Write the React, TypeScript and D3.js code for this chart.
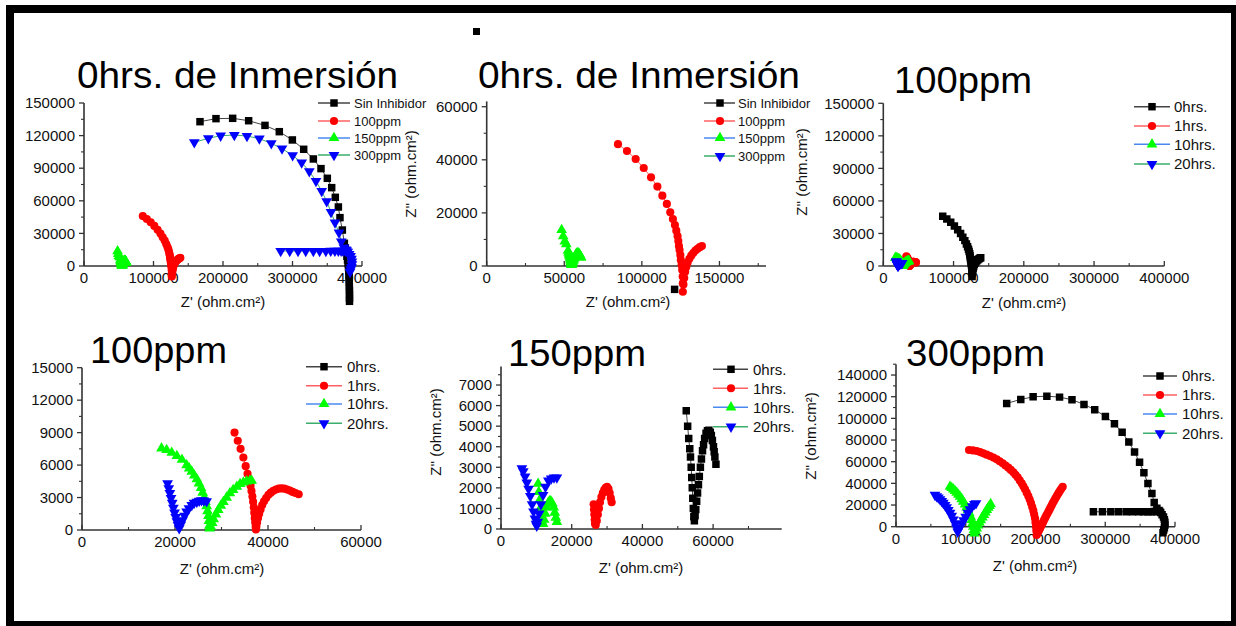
import React from 'react';
import * as d3 from 'd3';

type Pt = [number, number];

// ---- 0 hrs de inmersión ----
const sinInhibidor: Pt[] = [
  [166900, 132800], [189900, 135600], [213900, 135900], [236900, 133700], [260400, 129400],
  [281000, 123600], [299800, 116000], [316100, 107400], [330000, 98500], [341000, 89600],
  [350100, 80700], [356400, 72100], [361600, 63200], [366000, 54300], [368300, 44500],
  [371700, 33100], [374600, 20900], [376000, 16500], [377200, 12500], [378300, 9000],
  [379200, 5500], [380000, 2000], [380600, -1500], [381000, -5000], [381300, -8500],
  [381500, -12000], [381700, -15500], [381800, -19000], [381900, -22500], [382000, -26000],
  [382000, -29500], [382000, -32500],
];
const strayPoint: Pt[] = [[121100, -8800]];

const ppm100h0: Pt[] = [
  [84600, 45900], [90400, 43300], [96000, 40300], [101200, 36900], [105900, 33400],
  [110000, 29900], [113200, 26500], [116100, 23400], [118300, 20200], [120000, 17700],
  [121300, 15400], [122200, 13300], [123000, 11300], [123500, 9400], [123900, 7500],
  [124300, 6000], [124800, 4100], [125100, 2300], [125600, 400], [126000, -1500],
  [126300, -4000], [126400, -6500], [126400, -9700], [126800, -7000], [127300, -4500],
  [127900, -2200], [128600, -400], [129500, 1300], [130600, 2700], [131800, 3900],
  [133100, 4900], [134500, 5800], [135900, 6500], [137300, 7100], [138700, 7500],
];

const ppm150h0: Pt[] = [
  [48300, 13600], [49300, 11200], [50300, 9300], [51300, 8200], [52400, 5750],
  [52800, 5000], [53100, 4400], [53400, 3900], [53600, 3500], [53800, 3000],
  [53950, 2500], [54100, 2000], [54250, 1500], [54400, 1000], [54550, 600],
  [54700, 400], [54900, 650], [55100, 950], [55350, 1350], [55600, 1750],
  [55850, 2150], [56100, 2550], [56400, 3000], [56700, 3400], [57000, 3800],
  [57300, 4100], [57600, 4400], [58000, 4650], [58400, 4780], [58800, 4800],
  [59200, 4700], [59500, 4550], [59800, 4300], [60100, 4000], [60300, 3750],
  [60500, 3500], [60800, 3150],
];

const ppm300h0: Pt[] = [
  [158700, 113800], [178900, 117500], [196600, 119900], [216300, 120500], [234500, 119600],
  [252300, 117200], [269500, 112900], [284900, 108000], [300200, 101800], [313200, 95100],
  [324200, 87100], [333800, 78200], [342000, 69000], [349200, 59500], [355400, 49700],
  [361200, 39900], [366900, 30700], [370200, 22400], [374000, 17000], [377000, 15000],
  [379500, 13000], [381500, 11000], [383500, 9000], [384800, 6500], [385500, 4000],
  [385500, 1500], [384800, -1000], [383800, -3000], [382800, -5500],
  [378000, 14200], [376000, 14100], [373000, 14000], [370000, 14000], [366000, 13900],
  [361000, 13900], [355000, 13900], [348000, 13800], [339000, 13800], [330000, 13800],
  [319000, 13800], [308000, 13800], [296000, 13800], [283000, 13800],
];

// ---- 100 ppm ----
const ppm100h1: Pt[] = [
  [32800, 9000], [33500, 8250], [34100, 7500], [34700, 6700], [35200, 5900],
  [35600, 5200], [36000, 4600], [36250, 4100], [36450, 3600], [36650, 3100],
  [36800, 2600], [36950, 2100], [37050, 1600], [37150, 1100], [37250, 700],
  [37350, 300], [37400, 50], [37500, 300], [37650, 700], [37850, 1100],
  [38100, 1500], [38400, 1900], [38750, 2300], [39150, 2650], [39600, 2950],
  [40100, 3250], [40600, 3450], [41150, 3620], [41700, 3740], [42300, 3820],
  [42900, 3850], [43500, 3820], [44100, 3740], [44700, 3640], [45300, 3520],
  [45900, 3420], [46600, 3300],
];
const ppm100h10: Pt[] = [
  [17100, 7550], [18200, 7400], [19300, 7150], [20400, 6850], [21500, 6500],
  [22500, 6000], [23050, 5700], [23600, 5400], [24150, 5050], [24700, 4700],
  [25150, 4300], [25600, 3900], [25950, 3450], [26300, 3000], [26550, 2600],
  [26800, 2200], [27000, 1750], [27200, 1300], [27300, 850], [27400, 400],
  [27450, 150], [27700, 300], [28000, 650], [28300, 1000], [28800, 1450],
  [29300, 1850], [29850, 2250], [30400, 2600], [31100, 3000], [31800, 3400],
  [32500, 3700], [33300, 4000], [34000, 4250], [34700, 4400], [35400, 4500],
  [36100, 4550], [36500, 4550],
];
const ppm100h20: Pt[] = [
  [18400, 4300], [18650, 3850], [18900, 3400], [19150, 2950], [19400, 2500],
  [19650, 2050], [19900, 1600], [20150, 1200], [20400, 800], [20650, 450],
  [20900, 150], [21250, 500], [21600, 900], [22050, 1300], [22500, 1700],
  [23000, 2000], [23600, 2300], [24100, 2500], [24700, 2600], [25200, 2700],
  [25700, 2750], [26200, 2720], [26800, 2650],
];

// ---- 150 ppm ----
const ppm150h1: Pt[] = [
  [26200, 1200], [26300, 950], [26400, 700], [26500, 450], [26600, 250],
  [26800, 200], [27100, 400], [27400, 700], [27700, 1000], [28000, 1300],
  [28400, 1550], [28800, 1750], [29200, 1900], [29600, 2000], [30000, 2050],
  [30400, 1950], [30750, 1750], [31050, 1500], [31300, 1300],
];
const ppm150h10: Pt[] = [
  [10500, 2200], [10700, 1800], [10900, 1400], [11100, 1000], [11300, 650],
  [11600, 350], [11900, 250], [12200, 450], [12500, 750], [12900, 1050],
  [13300, 1250], [13700, 1350], [14100, 1350], [14500, 1250], [14900, 1050],
  [15200, 800], [15500, 550], [15800, 350],
];
const ppm150h20: Pt[] = [
  [5900, 2950], [6300, 2800], [6800, 2550], [7300, 2250], [7800, 1950],
  [8300, 1600], [8800, 1200], [9200, 850], [9600, 500], [9900, 250],
  [10100, 150], [10400, 350], [10800, 750], [11300, 1200], [11900, 1650],
  [12600, 2050], [13400, 2350], [14200, 2450], [15000, 2500], [15800, 2500],
];

// ---- 300 ppm ----
const ppm300h1: Pt[] = [
  [104700, 70800], [110200, 70400], [115700, 69900], [120500, 68900], [125200, 67700],
  [130000, 66500], [134800, 65300], [139600, 63800], [144400, 62200], [148700, 60400],
  [153000, 58500], [157000, 56500], [161000, 54500], [164600, 52400], [168200, 50200],
  [171300, 47900], [174400, 45600], [177300, 42800], [180200, 40000], [182600, 37300],
  [185000, 34500], [187400, 31400], [189700, 28300], [191700, 25000], [193600, 21600],
  [195300, 18200], [196900, 14800], [198100, 11300], [199300, 7700], [200000, 3800],
  [200700, 0], [201200, -3800], [201700, -7700], [202800, -6100], [204000, -4500],
  [205300, -3000], [206500, -1500], [207900, 400], [209300, 2300], [210800, 4200],
  [212200, 6200], [213800, 8100], [215300, 10000], [216900, 11900], [218400, 13800],
  [220000, 15700], [221500, 17700], [223100, 19600], [224600, 21600], [226300, 23500],
  [228000, 25500], [229700, 27400], [231300, 29300], [233200, 31200], [235100, 33100],
  [237000, 35000], [239000, 36900],
];
const ppm300h10: Pt[] = [
  [77400, 36900], [79800, 35800], [82200, 34500], [84600, 33000], [87000, 31400],
  [89400, 29600], [91800, 27700], [94200, 25500], [96500, 23100], [98900, 20600],
  [101300, 17900], [103200, 15200], [105100, 12400], [106900, 9300], [108500, 6200],
  [109700, 3100], [110800, 0], [111600, -3100], [112300, -6100], [114000, -3800],
  [115700, -1500], [117600, 1100], [119500, 3700], [121600, 6100], [123800, 8600],
  [126000, 11000], [128100, 13300], [130200, 15400], [132300, 17500], [134000, 19200],
  [135700, 20900],
];
const ppm300h20: Pt[] = [
  [55900, 29300], [58300, 28100], [60700, 26800], [63100, 25300], [65500, 23700],
  [67900, 21900], [70300, 20000], [72600, 17800], [75000, 15400], [77500, 12700],
  [79900, 9900], [82200, 6600], [84600, 3100], [86600, -800], [88500, -4600],
  [91300, -1000], [94200, 2500], [97000, 5900], [99900, 9200], [103000, 12700],
  [106100, 16000], [109200, 18700], [112300, 20900], [114700, 21600],
];

const legendInmersion = ['Sin Inhibidor', '100ppm', '150ppm', '300ppm'];
const legendHoras = ['0hrs.', '1hrs.', '10hrs.', '20hrs.'];

const shapes = ['square', 'circle', 'up', 'down'];
const markerFill = ['#000000', '#ff0000', '#00ff00', '#0000ff'];
const lineColors = ['#444444', '#ff6060', '#4a88f0', '#3aae6a'];

const FONT = '"Liberation Sans", Arial, Helvetica, sans-serif';

const panels = [
  {
    id: 'p1', title: '0hrs. de Inmersión', titleX: 77, titleY: 88, titleW: 321,
    xDomain: [0, 400000], xRange: [84, 362], xStep: 100000,
    yDomain: [0, 150000], yRange: [266, 103], yStep: 30000,
    yLabel: null, xLabelX: 223, xLabelY: 307,
    legend: { names: legendInmersion, l0: 318, l1: 350, m: 334, t: 354, rows: [103, 121, 138, 155], size: 13 },
    series: [sinInhibidor, ppm100h0, ppm150h0, ppm300h0], extra: [] as Pt[],
  },
  {
    id: 'p2', title: '0hrs. de Inmersión', titleX: 478, titleY: 88, titleW: 322,
    xDomain: [0, 180000], xRange: [486.7, 766], xStep: 50000,
    yDomain: [0, 62000], yRange: [266, 101.4], yStep: 20000,
    yLabel: [416, 174], xLabelX: 628, xLabelY: 307,
    legend: { names: legendInmersion, l0: 704, l1: 735, m: 720, t: 738, rows: [103, 121, 138, 156], size: 13 },
    series: [sinInhibidor, ppm100h0, ppm150h0, ppm300h0], extra: strayPoint,
  },
  {
    id: 'p3', title: '100ppm', titleX: 894, titleY: 93, titleW: 138,
    xDomain: [0, 400000], xRange: [883.3, 1164.3], xStep: 100000,
    yDomain: [0, 150000], yRange: [266, 103.3], yStep: 30000,
    yLabel: [807, 172], xLabelX: 1024, xLabelY: 308,
    legend: { names: legendHoras, l0: 1134, l1: 1170, m: 1152, t: 1174, rows: [106.7, 126, 144.3, 164], size: 15 },
    series: [ppm100h0, ppm100h1, ppm100h10, ppm100h20], extra: [] as Pt[],
  },
  {
    id: 'p4', title: '100ppm', titleX: 90, titleY: 363, titleW: 137,
    xDomain: [0, 60000], xRange: [82, 361], xStep: 20000,
    yDomain: [0, 15000], yRange: [530, 367.7], yStep: 3000,
    yLabel: null, xLabelX: 222, xLabelY: 574,
    legend: { names: legendHoras, l0: 306, l1: 342, m: 324, t: 347, rows: [366.7, 385.7, 404, 423.3], size: 15 },
    series: [ppm100h0, ppm100h1, ppm100h10, ppm100h20], extra: [] as Pt[],
  },
  {
    id: 'p5', title: '150ppm', titleX: 508, titleY: 366, titleW: 138,
    xDomain: [0, 79400], xRange: [501, 781.7], xStep: 20000,
    yDomain: [0, 7900], yRange: [529, 366.5], yStep: 1000,
    yLabel: [441, 432], xLabelX: 641, xLabelY: 573,
    legend: { names: legendHoras, l0: 713, l1: 748, m: 731, t: 753, rows: [369.3, 388.3, 407.3, 426.7], size: 15 },
    series: [ppm150h0, ppm150h1, ppm150h10, ppm150h20], extra: [] as Pt[],
  },
  {
    id: 'p6', title: '300ppm', titleX: 906, titleY: 366, titleW: 139,
    xDomain: [0, 400000], xRange: [896, 1175], xStep: 100000,
    yDomain: [0, 150000], yRange: [526.7, 364.2], yStep: 20000,
    yLabel: [816, 436], xLabelX: 1035, xLabelY: 571,
    legend: { names: legendHoras, l0: 1143, l1: 1177, m: 1160, t: 1182, rows: [376, 395, 414, 433.3], size: 15 },
    series: [ppm300h0, ppm300h1, ppm300h10, ppm300h20], extra: [] as Pt[],
  },
];

const symSquare = d3.symbol().type(d3.symbolSquare).size(56)() as string;
const symCircle = d3.symbol().type(d3.symbolCircle).size(52)() as string;
const symTri = d3.symbol().type(d3.symbolTriangle).size(50)() as string;

function Marker({ shape, x, y, fill }) {
  const d = shape === 'square' ? symSquare : shape === 'circle' ? symCircle : symTri;
  const rot = shape === 'down' ? ' rotate(180)' : '';
  return <path d={d} transform={`translate(${x},${y})${rot}`} fill={fill} />;
}

function Panel({ cfg }) {
  const x = d3.scaleLinear().domain(cfg.xDomain).range(cfg.xRange);
  const y = d3.scaleLinear().domain(cfg.yDomain).range(cfg.yRange);
  const line = d3.line<Pt>().x(d => x(d[0])).y(d => y(d[1]));
  const x0 = cfg.xRange[0], x1 = cfg.xRange[1];
  const y0 = cfg.yRange[0], yTop = cfg.yRange[1];
  // points beyond the x range or above the y range are skipped (as the original plot does)
  const inView = (p: Pt) => p[0] >= cfg.xDomain[0] && p[0] <= cfg.xDomain[1] && p[1] <= cfg.yDomain[1];

  const xMajor = d3.range(0, cfg.xDomain[1] + 1, cfg.xStep);
  const xMinor = d3.range(cfg.xStep / 2, cfg.xDomain[1] + 1, cfg.xStep);
  const yMajor = d3.range(0, cfg.yDomain[1] + 1, cfg.yStep);
  const yMinor = d3.range(cfg.yStep / 2, cfg.yDomain[1] + 1, cfg.yStep);
  const lg = cfg.legend;

  return (
    <g>
      <defs>
        <clipPath id={'clip-' + cfg.id}>
          <rect x={x0 - 4} y={yTop - 4} width={x1 - x0 + 8} height={y0 - yTop + 54} />
        </clipPath>
      </defs>

      <text x={cfg.titleX} y={cfg.titleY} fontSize={37} fontFamily={FONT} fill="#000"
        textLength={cfg.titleW} lengthAdjust="spacingAndGlyphs">{cfg.title}</text>

      {/* axes */}
      <line x1={x0} x2={x0} y1={yTop} y2={y0} stroke="#333" strokeWidth={1.6} />
      <line x1={x0} x2={x1} y1={y0} y2={y0} stroke="#333" strokeWidth={1.6} />
      {yMajor.map(v => (
        <g key={'ym' + v}>
          <line x1={x0 - 5} x2={x0} y1={y(v)} y2={y(v)} stroke="#333" strokeWidth={1.3} />
          <text x={x0 - 9} y={y(v)} dy="0.35em" textAnchor="end" fontSize={15} fontFamily={FONT} fill="#111">{v}</text>
        </g>
      ))}
      {yMinor.map(v => (
        <line key={'yn' + v} x1={x0 - 3} x2={x0} y1={y(v)} y2={y(v)} stroke="#333" strokeWidth={1.1} />
      ))}
      {xMajor.map(v => (
        <g key={'xm' + v}>
          <line x1={x(v)} x2={x(v)} y1={y0 - 5} y2={y0} stroke="#333" strokeWidth={1.3} />
          <text x={x(v)} y={y0 + 17} textAnchor="middle" fontSize={15} fontFamily={FONT} fill="#111">{v}</text>
        </g>
      ))}
      {xMinor.map(v => (
        <line key={'xn' + v} x1={x(v)} x2={x(v)} y1={y0 - 3} y2={y0} stroke="#333" strokeWidth={1.1} />
      ))}

      <text x={cfg.xLabelX} y={cfg.xLabelY} textAnchor="middle" fontSize={15} fontFamily={FONT} fill="#111">Z' (ohm.cm²)</text>
      {cfg.yLabel && (
        <text transform={`translate(${cfg.yLabel[0]},${cfg.yLabel[1]}) rotate(-90)`} textAnchor="middle"
          fontSize={15} fontFamily={FONT} fill="#111">Z'' (ohm.cm²)</text>
      )}

      {/* data */}
      <g clipPath={`url(#clip-${cfg.id})`}>
        {cfg.series.map((raw, i) => {
          const data = raw.filter(inView);
          if (!data.length) return null;
          return (
            <g key={'s' + i}>
              <path d={line(data) as string} fill="none" stroke={lineColors[i]} strokeWidth={1} />
              {data.map((p, j) => (
                <Marker key={j} shape={shapes[i]} x={x(p[0])} y={y(p[1])} fill={markerFill[i]} />
              ))}
            </g>
          );
        })}
        {cfg.extra.map((p, j) => (
          <Marker key={'e' + j} shape="square" x={x(p[0])} y={y(p[1])} fill="#000" />
        ))}
      </g>

      {/* legend */}
      {lg.names.map((name, i) => (
        <g key={'lg' + i}>
          <line x1={lg.l0} x2={lg.l1} y1={lg.rows[i]} y2={lg.rows[i]} stroke={lineColors[i]} strokeWidth={1.5} />
          <Marker shape={shapes[i]} x={lg.m} y={lg.rows[i]} fill={markerFill[i]} />
          <text x={lg.t} y={lg.rows[i]} dy="0.35em" fontSize={lg.size} fontFamily={FONT} fill="#111">{name}</text>
        </g>
      ))}
    </g>
  );
}

export default function App() {
  return (
    <svg width={1236} height={626} style={{ position: 'absolute', left: 0, top: 0, display: 'block', background: '#fff' }}>
      <rect x={0} y={0} width={1236} height={626} fill="#fff" />
      {panels.map(p => <Panel key={p.id} cfg={p} />)}
      <rect x={473} y={28} width={7} height={7} fill="#000" />
      <rect x={10} y={9} width={1225} height={616} fill="none" stroke="#000" strokeWidth={8} />
    </svg>
  );
}
